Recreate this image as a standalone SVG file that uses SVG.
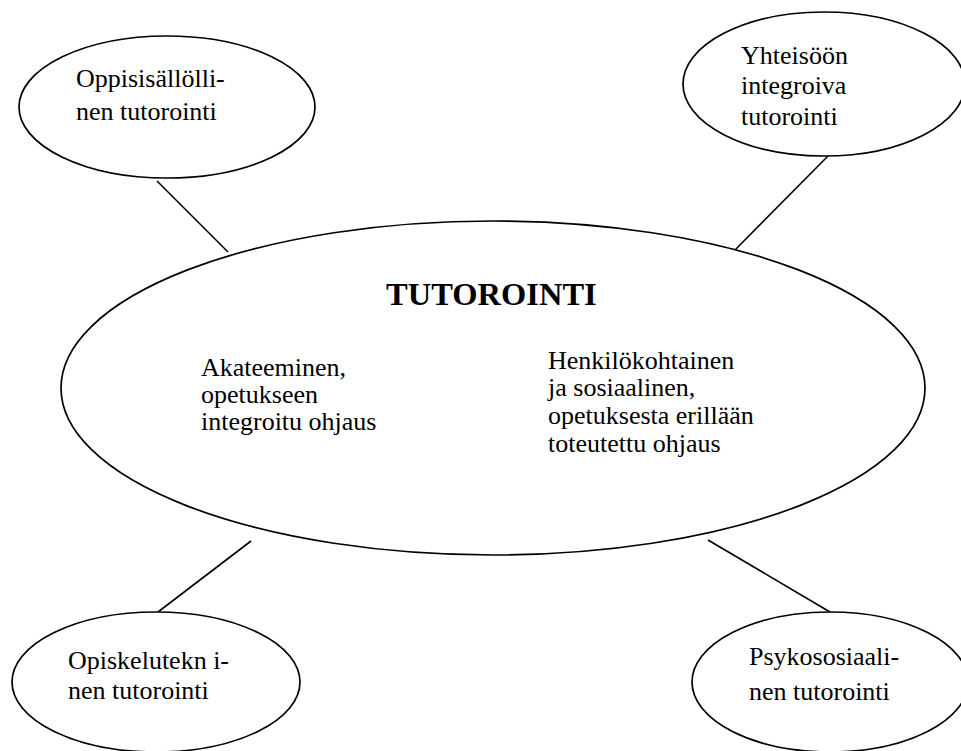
<svg xmlns="http://www.w3.org/2000/svg" width="961" height="751" viewBox="0 0 961 751">
<style>
.sh{fill:#fff;stroke:#000;stroke-width:1.7}
.cn{stroke:#000;stroke-width:1.6;fill:none}
.t{font-family:"Liberation Serif","Times New Roman",serif;font-size:26px;fill:#000}
.b{font-family:"Liberation Serif","Times New Roman",serif;font-size:32.5px;font-weight:bold;fill:#000}
</style>
<rect width="961" height="751" fill="#fff"/>
<g id="connectors">
<line class="cn" x1="157" y1="181" x2="228" y2="252"/>
<line class="cn" x1="828" y1="156" x2="733" y2="252"/>
<line class="cn" x1="251" y1="541" x2="158" y2="612"/>
<line class="cn" x1="708" y1="540" x2="830" y2="612"/>
</g>
<g id="main">
<ellipse class="sh" cx="493" cy="388" rx="432" ry="167"/>
<text class="b" x="386" y="305">TUTOROINTI</text>
<text class="t" x="201" y="376">Akateeminen,</text>
<text class="t" x="201" y="403">opetukseen</text>
<text class="t" x="201" y="430">integroitu ohjaus</text>
<text class="t" x="548" y="369">Henkilökohtainen</text>
<text class="t" x="548" y="396">ja sosiaalinen,</text>
<text class="t" x="548" y="424">opetuksesta erillään</text>
<text class="t" x="548" y="452">toteutettu ohjaus</text>
</g>
<g id="oppisisallollinen">
<ellipse class="sh" cx="167" cy="107" rx="148" ry="71"/>
<text class="t" x="76" y="87">Oppisisällölli-</text>
<text class="t" x="76" y="120">nen tutorointi</text>
</g>
<g id="yhteisoon">
<ellipse class="sh" cx="824" cy="84" rx="141" ry="72"/>
<text class="t" x="741" y="64">Yhteisöön</text>
<text class="t" x="741" y="94">integroiva</text>
<text class="t" x="741" y="125">tutorointi</text>
</g>
<g id="opiskelutekninen">
<ellipse class="sh" cx="156" cy="682" rx="144" ry="70"/>
<text class="t" x="68" y="669">Opiskelutekn i-</text>
<text class="t" x="68" y="699">nen tutorointi</text>
</g>
<g id="psykososiaalinen">
<ellipse class="sh" cx="830" cy="682" rx="138" ry="70"/>
<text class="t" x="749" y="665">Psykososiaali-</text>
<text class="t" x="749" y="700">nen tutorointi</text>
</g>
</svg>
